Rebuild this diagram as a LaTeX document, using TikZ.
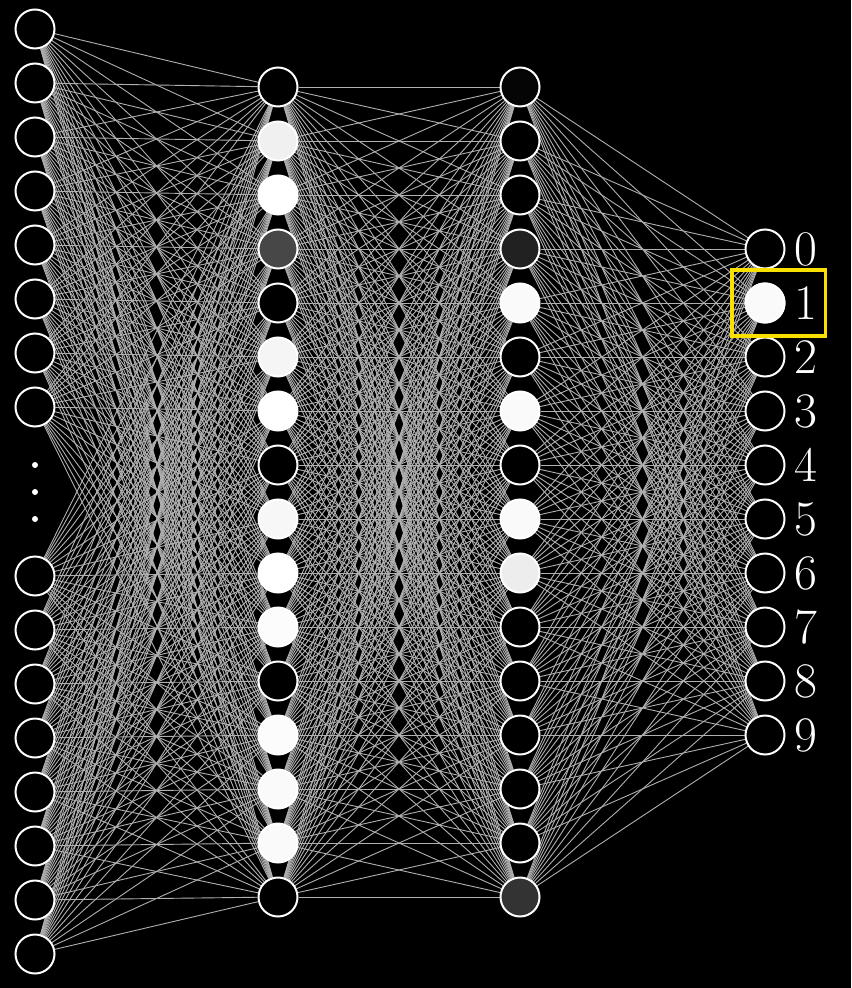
\documentclass[tikz,border=0pt]{standalone}
\usetikzlibrary{positioning}
\definecolor{edgegray}{RGB}{176,176,176}
\definecolor{focusyellow}{RGB}{250,224,0}
\pgfdeclarelayer{canvas}
\pgfdeclarelayer{edges}
\pgfsetlayers{canvas,edges,main}
\tikzset{
  neuron/.style={circle, draw=white, line width=1pt, minimum size=19.5pt, inner sep=0pt, fill=black},
  synapse/.style={draw=edgegray, line width=0.45pt},
  digit/.style={text=white, inner sep=0pt, font=\fontsize{23}{26}\selectfont},
  dot/.style={circle, fill=white, minimum size=3pt, inner sep=0pt},
  focus/.style={draw=focusyellow, line width=1.75pt, minimum width=46.75pt, minimum height=32.85pt, inner sep=0pt},
}
\begin{document}
\begin{tikzpicture}[x=0.5pt, y=-0.5pt]

    % --- Canvas ---
    \begin{pgfonlayer}{canvas}
    \fill[black] (0,0) rectangle (851,988);
    \end{pgfonlayer}
    \useasboundingbox (0,0) rectangle (851,988);

    % --- Input Layer (top and bottom halves) ---
    \foreach \i in {1,...,8}
        \node[neuron] (in-\i) at (35, {29+54*(\i-1)}) {};
    \foreach \i in {9,...,16}
        \node[neuron] (in-\i) at (35, {576+54*(\i-9)}) {};

    % vertical dots
    \foreach \k/\y in {1/465,2/492,3/519}
        \node[dot] (dot-\k) at (35,\y) {};

    % --- First Hidden Layer ---
    \foreach \i/\s in {1/0,2/94,3/100,4/28,5/0,6/96,7/100,8/0,9/97,10/100,11/99,12/0,13/99,14/98,15/98,16/0}
        \node[neuron, fill=white!\s!black] (ha-\i) at (278, {87+54*(\i-1)}) {};

    % --- Second Hidden Layer ---
    \foreach \i/\s in {1/2,2/0,3/0,4/13,5/98,6/0,7/98,8/0,9/98,10/93,11/0,12/0,13/0,14/0,15/0,16/20}
        \node[neuron, fill=white!\s!black] (hb-\i) at (520, {87+54*(\i-1)}) {};

    % --- Output Layer with digit labels ---
    \foreach \k in {0,...,9}{
        \node[neuron] (out-\k) at (765, {249+54*\k}) {};
        \node[digit, right=4.5pt of out-\k] (lab-\k) {$\k$};
    }
    \node[neuron, fill=white!98!black] at (out-1) {};

    % highlighted answer
    \node[focus, xshift=6.9pt] (pick) at (out-1) {};

    % --- Connections ---
    \begin{pgfonlayer}{edges}
    \foreach \i in {1,...,16}
        \foreach \j in {1,...,16}
            \draw[synapse] (in-\i) -- (ha-\j);
    \foreach \i in {1,...,16}
        \foreach \j in {1,...,16}
            \draw[synapse] (ha-\i) -- (hb-\j);
    \foreach \i in {1,...,16}
        \foreach \k in {0,...,9}
            \draw[synapse] (hb-\i) -- (out-\k);
    \end{pgfonlayer}

\end{tikzpicture}
\end{document}
